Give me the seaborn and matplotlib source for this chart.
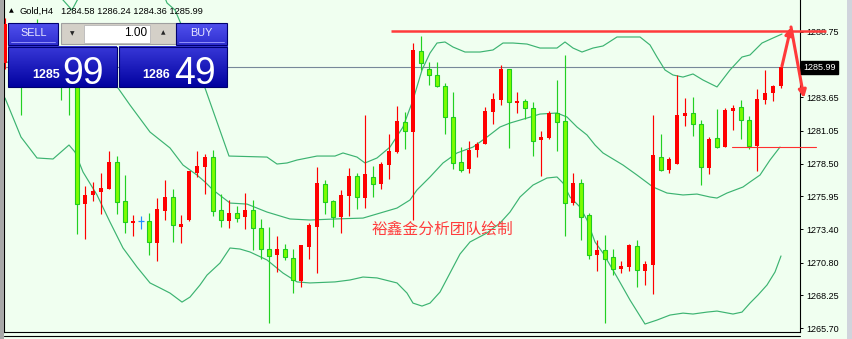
import numpy as np
import pandas as pd
import matplotlib
matplotlib.use("Agg")
import matplotlib.pyplot as plt
import seaborn as sns
from matplotlib.colors import LinearSegmentedColormap
from matplotlib.patches import Rectangle

# ---------------- data ----------------
opens = [1286.30, 1288.90, 1287.20, 1285.20, 1288.60, 1286.50, 1287.80, 1286.20, 1286.00, 1284.90,
         1275.35, 1276.06, 1276.29, 1276.53, 1278.62, 1275.59, 1273.87, 1274.03, 1274.03, 1272.32,
         1274.81, 1275.90, 1273.56, 1274.11, 1277.77, 1278.23, 1279.01, 1274.89, 1274.03, 1274.65,
         1274.34, 1274.89, 1273.48, 1271.85, 1271.39, 1271.85, 1271.15, 1269.36, 1272.01, 1273.56,
         1276.91, 1275.59, 1274.34, 1275.98, 1277.53, 1275.82, 1277.46, 1276.91, 1278.39, 1279.40,
         1281.74, 1280.96, 1287.27, 1285.87, 1285.40, 1284.54, 1282.13, 1278.62, 1278.08, 1279.56,
         1280.03, 1282.52, 1283.45, 1285.87, 1283.22, 1283.38, 1282.83, 1280.34, 1280.49, 1282.44,
         1281.82, 1275.43, 1276.99, 1274.50, 1271.39, 1271.77, 1271.23, 1270.29, 1270.45, 1272.08,
         1270.14, 1270.61, 1279.01, 1278.00, 1278.47, 1282.21, 1282.44, 1281.58, 1278.16, 1280.49,
         1279.79, 1282.60, 1282.91, 1281.90, 1279.87, 1283.45, 1284.00, 1284.58]
highs = [1289.80, 1289.20, 1287.80, 1288.90, 1289.76, 1288.20, 1288.40, 1286.80, 1286.50, 1285.20,
         1276.76, 1277.07, 1277.77, 1279.48, 1279.09, 1277.61, 1274.50, 1274.42, 1274.65, 1275.82,
         1277.22, 1276.53, 1274.50, 1277.95, 1279.48, 1279.25, 1279.56, 1276.13, 1275.67, 1275.20,
         1276.21, 1275.67, 1274.19, 1273.56, 1272.86, 1272.24, 1271.85, 1272.20, 1273.87, 1278.23,
         1277.22, 1275.67, 1276.45, 1278.16, 1277.77, 1282.28, 1278.31, 1278.62, 1280.81, 1282.99,
         1282.52, 1287.89, 1288.44, 1286.41, 1286.41, 1284.78, 1284.08, 1279.79, 1280.26, 1280.18,
         1282.91, 1284.00, 1286.18, 1285.90, 1284.08, 1283.53, 1283.30, 1281.04, 1282.60, 1285.01,
         1286.96, 1277.77, 1277.30, 1274.65, 1272.55, 1272.94, 1271.85, 1270.92, 1272.24, 1272.55,
         1270.92, 1282.28, 1280.81, 1279.01, 1285.40, 1283.61, 1283.69, 1281.90, 1280.57, 1282.75,
         1282.83, 1283.06, 1283.45, 1282.21, 1284.31, 1285.79, 1284.62, 1286.24]
lows = [1285.90, 1286.80, 1282.28, 1284.80, 1286.00, 1285.90, 1285.70, 1283.45, 1282.28, 1273.02,
        1272.63, 1275.59, 1274.57, 1276.50, 1274.57, 1273.10, 1272.86, 1273.41, 1271.39, 1270.92,
        1274.11, 1272.40, 1272.32, 1274.03, 1277.46, 1276.13, 1274.42, 1273.56, 1273.48, 1273.95,
        1273.41, 1271.77, 1271.07, 1266.09, 1270.06, 1271.00, 1268.42, 1268.90, 1271.07, 1269.98,
        1274.57, 1273.56, 1273.10, 1274.42, 1274.96, 1275.04, 1275.90, 1276.53, 1277.30, 1279.33,
        1279.64, 1274.11, 1285.79, 1284.62, 1284.50, 1280.81, 1278.08, 1277.85, 1277.77, 1279.01,
        1280.00, 1281.58, 1283.06, 1279.72, 1282.44, 1281.97, 1279.09, 1277.53, 1280.42, 1279.48,
        1272.86, 1275.28, 1272.55, 1271.07, 1270.14, 1266.09, 1269.82, 1269.98, 1270.14, 1268.90,
        1269.05, 1268.35, 1277.92, 1277.77, 1278.45, 1281.43, 1280.65, 1276.83, 1277.69, 1279.72,
        1279.76, 1281.12, 1280.42, 1279.64, 1277.92, 1283.14, 1283.38, 1284.36]
closes = [1289.40, 1287.20, 1285.20, 1288.60, 1286.50, 1287.80, 1286.20, 1285.00, 1284.90, 1275.35,
          1276.06, 1276.37, 1276.60, 1278.62, 1275.51, 1273.95, 1274.03, 1274.03, 1272.40, 1274.96,
          1275.90, 1273.72, 1273.80, 1277.92, 1278.31, 1279.01, 1274.81, 1274.11, 1274.65, 1274.26,
          1274.89, 1273.48, 1271.85, 1271.31, 1271.85, 1271.23, 1269.44, 1272.16, 1273.72, 1276.99,
          1275.51, 1274.34, 1276.06, 1277.53, 1275.90, 1277.69, 1276.91, 1278.47, 1279.48, 1281.82,
          1281.04, 1287.35, 1286.33, 1285.40, 1284.54, 1282.13, 1278.55, 1278.00, 1279.56, 1280.03,
          1282.60, 1283.53, 1285.87, 1283.30, 1283.38, 1282.83, 1280.26, 1280.57, 1282.44, 1281.74,
          1275.43, 1276.99, 1274.34, 1271.39, 1271.77, 1271.07, 1270.29, 1270.53, 1272.16, 1270.21,
          1270.68, 1279.17, 1278.00, 1278.86, 1282.28, 1282.44, 1281.58, 1278.23, 1280.42, 1279.79,
          1282.67, 1282.83, 1281.90, 1279.87, 1283.53, 1284.00, 1284.54, 1285.99]

# Bollinger bands, sampled along the bar index
upper_idx = [0, 5.625, 7.25, 8.375, 9.375, 11.875, 18.125, 20.25, 21.25, 23.125, 25, 28, 32.75, 34,
             35.25, 36.5, 39, 41.25, 42.25, 44, 45, 46.5, 48.125, 49.75, 51, 52.125, 53.125, 54, 55,
             56, 57.5, 59.375, 61, 62.25, 63.5, 65.25, 66.875, 69, 70, 71, 72.125, 73.5, 74.75, 76.5,
             79.375, 80.625, 81.5, 82.5, 83.5, 84.75, 86, 87.25, 89, 90.625, 92.125, 93.125, 94.625,
             96, 97.125]
upper_val = [1293.58, 1292.41, 1291.24, 1290.46, 1291.63, 1294.35, 1294.35, 1291.01, 1290.46, 1287.74,
             1284.39, 1279.09, 1279.01, 1278.47, 1278.55, 1278.78, 1279.09, 1279.09, 1279.33, 1279.01,
             1278.55, 1278.94, 1279.79, 1281.35, 1283.45, 1285.79, 1287.11, 1287.89, 1287.97, 1287.58,
             1287.19, 1287.19, 1287.35, 1287.89, 1287.89, 1287.81, 1287.50, 1287.50, 1287.97, 1287.50,
             1287.19, 1287.50, 1287.66, 1288.36, 1288.36, 1287.74, 1286.80, 1285.79, 1285.40, 1285.24,
             1285.48, 1285.01, 1284.47, 1285.79, 1286.80, 1286.96, 1287.89, 1288.28, 1288.59]
middle_idx = [0, 4, 8, 10, 11.875, 14.125, 15.625, 18.125, 20.625, 22.25, 24, 25, 26, 28.125, 30.25,
              32.75, 35.625, 38.125, 41.25, 44.75, 46.875, 49, 50.625, 51.5, 53.125, 54.75, 56.5,
              58.5, 60.25, 61.875, 63.125, 65.25, 66.875, 69, 70.25, 71.5, 72.75, 73.75, 74.75, 77.25,
              79, 81, 82.75, 84.75, 86.5, 88.125, 89, 90.25, 92.25, 93.125, 94.375, 95.625, 96.875]
middle_val = [1286.41, 1286.26, 1285.95, 1285.48, 1285.01, 1284.39, 1283.06, 1280.96, 1279.72, 1278.39,
              1277.61, 1277.07, 1276.45, 1275.43, 1275.35, 1274.73, 1274.19, 1274.11, 1274.19, 1274.26,
              1274.65, 1275.04, 1275.67, 1276.45, 1277.46, 1278.55, 1279.33, 1279.79, 1280.57, 1281.35,
              1281.66, 1282.05, 1282.36, 1282.44, 1282.13, 1281.35, 1280.73, 1279.95, 1279.33, 1278.39,
              1277.61, 1276.68, 1276.21, 1276.06, 1276.13, 1275.90, 1275.82, 1276.21, 1276.68, 1277.07,
              1277.61, 1278.78, 1279.79]
lower_idx = [0, 2, 4, 6, 8, 8.75, 9.75, 11.5, 13.125, 14.75, 16.5, 18.125, 19.375, 20.625, 22.125,
             23.125, 24.375, 25.25, 26.875, 28.125, 29.375, 30.625, 32.75, 34.75, 36.5, 38.125, 41.25,
             43.125, 44.75, 46.5, 49, 50.25, 51, 52.125, 53.125, 54.375, 55.625, 56.875, 58.125, 60.25,
             61.875, 63.125, 64.375, 66, 67.75, 69, 69.75, 70.625, 71.875, 72.75, 73.75, 74.75, 76.5,
             78.125, 80, 81.5, 83.125, 84.75, 86, 87.75, 89, 91, 92.125, 93.125, 94.125, 95.25, 96.25, 97]
lower_val = [1283.61, 1280.57, 1278.94, 1278.86, 1279.95, 1279.40, 1277.85, 1276.06, 1273.95, 1271.93,
             1270.45, 1269.21, 1268.82, 1268.42, 1267.72, 1268.11, 1269.05, 1269.82, 1270.76, 1271.93,
             1271.85, 1271.62, 1271.00, 1269.98, 1269.29, 1269.21, 1269.29, 1269.44, 1269.67, 1269.60,
             1269.21, 1268.42, 1267.64, 1267.41, 1267.64, 1268.50, 1269.98, 1271.46, 1272.40, 1273.10,
             1273.87, 1274.73, 1275.90, 1276.83, 1277.38, 1277.46, 1276.99, 1275.90, 1275.12, 1274.11,
             1272.40, 1271.54, 1269.67, 1267.88, 1266.01, 1266.32, 1266.71, 1266.86, 1266.79, 1266.94,
             1267.02, 1266.79, 1266.94, 1267.64, 1268.27, 1269.05, 1270.06, 1271.31]

price_ticks = [1265.70, 1268.25, 1270.80, 1273.40, 1275.95, 1278.50, 1281.05, 1283.65, 1288.75]
current_price = 1285.99
resistance = 1288.80
resistance_from = 48.25
support = 1279.83
support_from = 90.875
arrow_idx = [97.125, 98.25, 99.875]
arrow_val = [1286.10, 1289.14, 1283.61]

title_symbol = "Gold,H4"
ohlc_text = "1284.58 1286.24 1284.36 1285.99"
lot_text = "1.00"
sell_big, sell_small = "99", "1285"
buy_big, buy_small = "49", "1286"
watermark = "裕鑫金分析团队绘制"

# ---------------- styling ----------------
sns.set_style("white")
plt.rcParams['font.family'] = ['Liberation Sans', 'Noto Sans CJK SC', 'DejaVu Sans']

BG = '#F0FFF0'
RED = '#FF0000'
LIME = '#7CFC00'
GEDGE = '#1FCC1F'
GWICK = '#22D022'
BLUE = '#1E90FF'
BAND = '#3CB371'

W, H = 852, 339
fig = plt.figure(figsize=(W / 100, H / 100), dpi=100, facecolor=BG)
ax = fig.add_axes([4 / W, 7 / H, 796 / W, 332 / H], facecolor=BG)

df = pd.DataFrame({'open': opens, 'high': highs, 'low': lows, 'close': closes})
df['idx'] = np.arange(len(df))
O = df['open'].to_numpy(); C = df['close'].to_numpy()
Hh = df['high'].to_numpy(); L = df['low'].to_numpy(); X = df['idx'].to_numpy()
up = C > O
dn = C < O
dj = C == O

# current price line
ax.axhline(current_price, color='#778899', lw=0.8, zorder=1)

# Bollinger bands via seaborn
for bi, bv in [(upper_idx, upper_val), (middle_idx, middle_val), (lower_idx, lower_val)]:
    sns.lineplot(x=bi, y=bv, ax=ax, color=BAND, lw=0.85, estimator=None, sort=False, zorder=2)

# candles
wick_cols = np.where(up, RED, np.where(dn, GWICK, BLUE))
ax.vlines(X, L, Hh, colors=wick_cols, lw=0.85, zorder=3)
bottom = np.minimum(O, C)
height = np.maximum(np.abs(C - O), 0.05)
ax.bar(X[up], height[up], bottom=bottom[up], width=0.62, color=RED, lw=0, zorder=4)
ax.bar(X[dn], height[dn], bottom=bottom[dn], width=0.52, color=LIME, edgecolor=GEDGE, lw=0.8, zorder=4)
ax.hlines(O[dj], X[dj] - 0.33, X[dj] + 0.33, colors=BLUE, lw=0.9, zorder=4)

# resistance / support lines
ax.plot([resistance_from, 102.6], [resistance, resistance], color='#FF3B3B', lw=1.8,
        clip_on=False, zorder=6, solid_capstyle='butt')
ax.plot([support_from, 101.4], [support, support], color='#FF3030', lw=0.8,
        clip_on=False, zorder=6)

# arrows
for i in range(2):
    ax.annotate('', xy=(arrow_idx[i + 1], arrow_val[i + 1]), xytext=(arrow_idx[i], arrow_val[i]),
                arrowprops=dict(arrowstyle='-|>', color='#FF3A3A', lw=2.2, mutation_scale=11,
                                shrinkA=0, shrinkB=0),
                annotation_clip=False, zorder=7)

ax.set_xlim(-0.125, 99.375)
ax.set_ylim(1265.39, 1291.24)
ax.set_xticks([])
ax.set_xlabel(''); ax.set_ylabel('')
ax.yaxis.tick_right()
ax.set_yticks(price_ticks)
ax.set_yticklabels([f"{t:.2f}" for t in price_ticks])
ax.tick_params(axis='y', direction='out', length=2.2, width=0.7, pad=2.2, labelsize=6.5,
               colors='black', right=True, left=False)
for s in ['left', 'right', 'bottom']:
    ax.spines[s].set_visible(True)
    ax.spines[s].set_color('black')
    ax.spines[s].set_linewidth(0.8)
ax.spines['top'].set_visible(False)

# current price box
ax.text(1.0045, current_price, f"{current_price:.2f}", transform=ax.get_yaxis_transform(),
        ha='left', va='center', color='white', fontsize=6.5, zorder=8,
        bbox=dict(boxstyle='square,pad=0.25', fc='black', ec='black'))

# ---------------- overlay (pixel space): panel & texts ----------------
ov = fig.add_axes([0, 0, 1, 1])
ov.patch.set_visible(False)
ov.axis('off')


def grad_box(x0, y0, x1, y1, c_top, c_bot):
    cmap = LinearSegmentedColormap.from_list('g', [c_top, c_bot])
    g = np.linspace(0, 1, 64).reshape(-1, 1)
    ov.imshow(g, extent=[x0, x1, y1, y0], cmap=cmap, aspect='auto', interpolation='bilinear', zorder=2)
    ov.add_patch(Rectangle((x0, y0), x1 - x0, y1 - y0, fill=False, ec='#000070', lw=0.8, zorder=3))


grad_box(8, 23, 58, 45, '#5050EE', '#3030D0')
grad_box(176, 23, 227, 45, '#5050EE', '#3030D0')
grad_box(8, 46.5, 116.5, 87, '#3838D8', '#0202A0')
grad_box(118.5, 46.5, 227, 87, '#3838D8', '#0202A0')
ov.plot([11, 55], [42.3, 42.3], color='#A0A0FF', lw=0.6, zorder=4)
ov.plot([179, 224], [42.3, 42.3], color='#A0A0FF', lw=0.6, zorder=4)

# spinner
ov.add_patch(Rectangle((61, 23), 115, 21, fc='#D4D0C8', ec='#A0A0A0', lw=0.8, zorder=2))
ov.add_patch(Rectangle((84, 24.5), 66, 18.5, fc='white', ec='#B8B8B8', lw=0.6, zorder=3))
ov.text(72.5, 33.5, '▼', fontsize=4.2, family='DejaVu Sans', ha='center', va='center', zorder=5)
ov.text(163, 33, '▲', fontsize=4.2, family='DejaVu Sans', ha='center', va='center', zorder=5)
ov.text(147.5, 33.5, lot_text, fontsize=8.5, ha='right', va='center', color='black', zorder=5)

ov.text(33.5, 33.5, 'SELL', fontsize=7.8, ha='center', va='center', color='#E8E8FF', zorder=5)
ov.text(201, 33.5, 'BUY', fontsize=7.8, ha='center', va='center', color='#E8E8FF', zorder=5)

ov.text(32, 77.5, sell_small, fontsize=9, fontweight='bold', color='white', ha='left', va='baseline', zorder=5)
ov.text(62, 83.5, sell_big, fontsize=27, color='white', ha='left', va='baseline', zorder=5)
ov.text(142, 77.5, buy_small, fontsize=9, fontweight='bold', color='white', ha='left', va='baseline', zorder=5)
ov.text(174, 83.5, buy_big, fontsize=27, color='white', ha='left', va='baseline', zorder=5)

# title
ov.text(11, 11, '▲', fontsize=4.5, family='DejaVu Sans', ha='center', va='center', color='black')
ov.text(20, 11, title_symbol, fontsize=6.7, ha='left', va='center', color='black')
ov.text(61, 11, ohlc_text, fontsize=6.7, ha='left', va='center', color='black')

# watermark
ov.text(442, 229.5, watermark, fontsize=11.3, ha='center', va='center', color='#FF3C3C',
        family=['Noto Sans CJK SC', 'DejaVu Sans'])

# frame details
ov.plot([4, 800], [335.5, 335.5], color='black', lw=0.8)
ov.add_patch(Rectangle((0, 0), 3.5, H, fc='#A8A8A8', ec='none'))
ov.add_patch(Rectangle((847, 0), 5, H, fc='#D0D4DC', ec='none'))

ov.set_xlim(0, W)
ov.set_ylim(H, 0)

fig.savefig('out.png', dpi=100, facecolor=BG)
